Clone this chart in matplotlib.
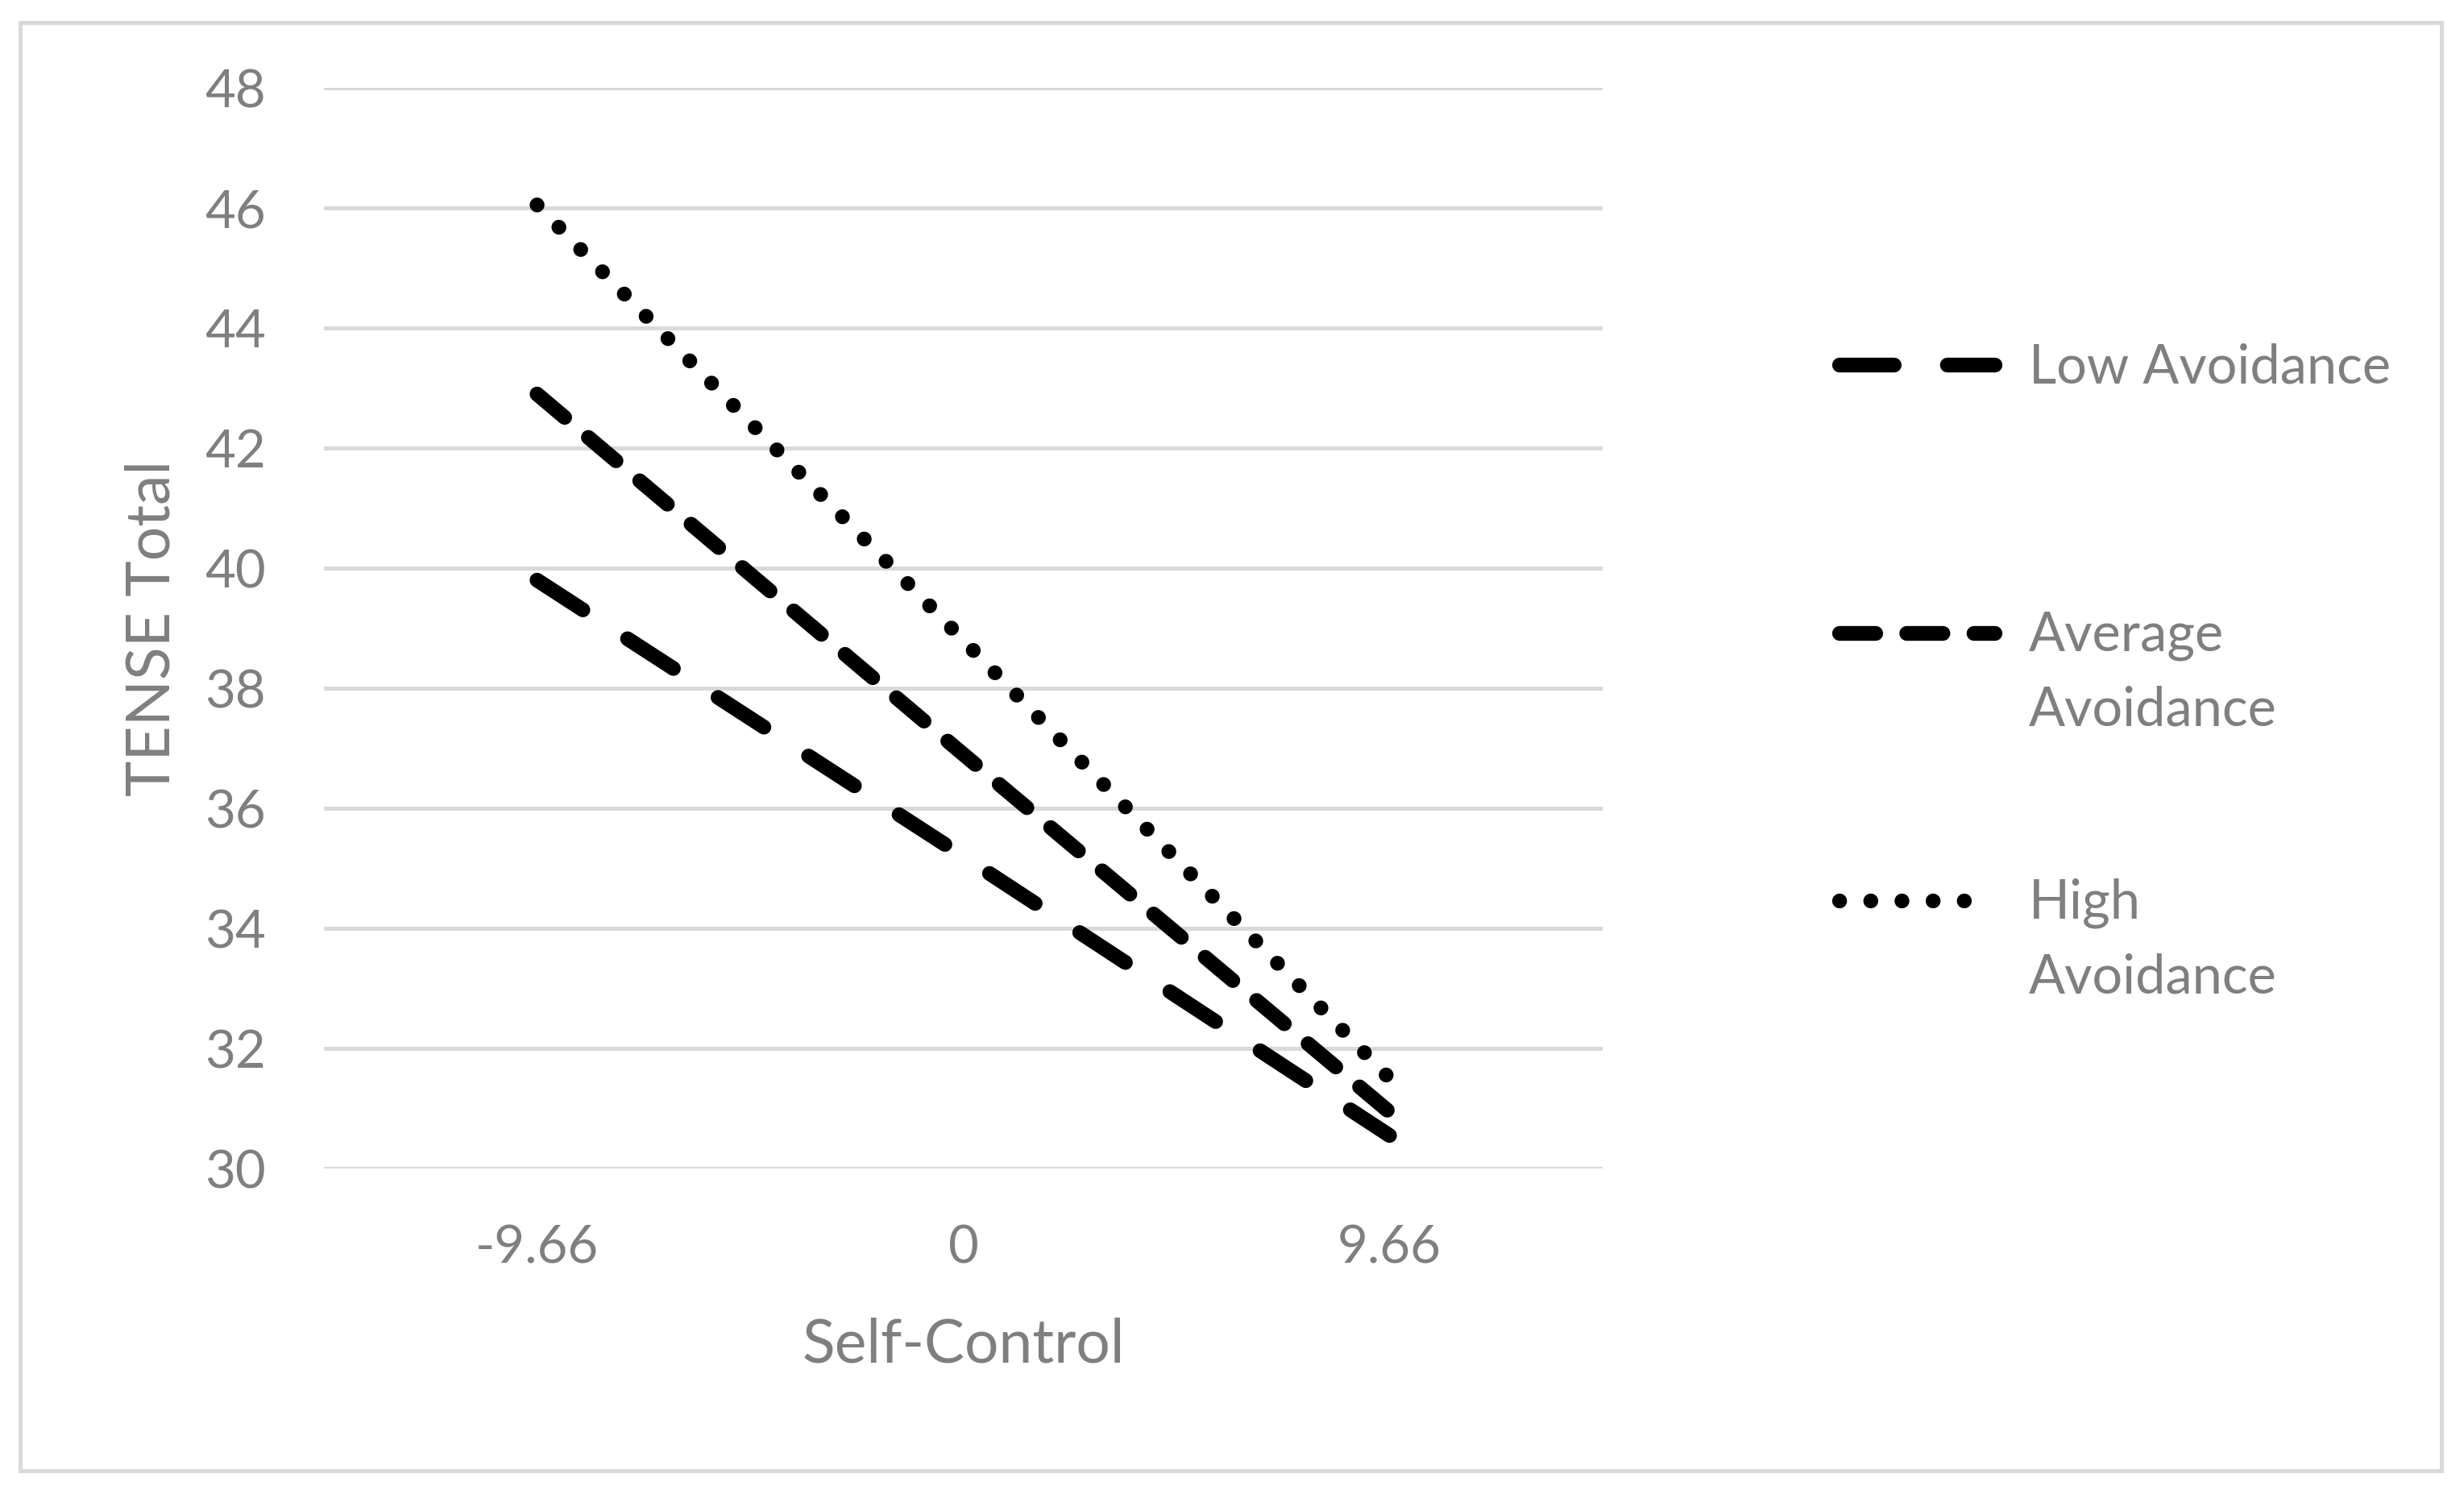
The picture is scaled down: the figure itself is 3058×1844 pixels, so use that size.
import matplotlib
matplotlib.use("Agg")
import matplotlib.pyplot as plt
from matplotlib.lines import Line2D
from matplotlib.patches import Rectangle

plt.rcParams["font.family"] = ["Lato", "DejaVu Sans"]

# ── data ──────────────────────────────────────────────────────────────────────
categories = ["-9.66", "0", "9.66"]
low_avoid  = [39.8, 35.2, 30.55]
avg_avoid  = [42.9, 36.9, 30.94]
high_avoid = [46.05, 38.8, 31.5]
series_labels = ["Low Avoidance", "Average\nAvoidance", "High\nAvoidance"]
y_ticks = [30, 32, 34, 36, 38, 40, 42, 44, 46, 48]

GRAY_TXT  = "#7f7f7f"
GRAY_GRID = "#d9d9d9"
LW = 6.6
styles = [(0, (3.7, 3.6)), (0, (2.45, 2.1)), (0, (0.01, 2.1))]

W, H, DPI = 3058, 1844, 200
fig = plt.figure(figsize=(W / DPI, H / DPI), dpi=DPI)
ax = fig.add_axes([402 / W, 1 - 1450 / H, (1989 - 402) / W, (1450 - 109) / H])

x = range(len(categories))
for vals, ls in zip([low_avoid, avg_avoid, high_avoid], styles):
    ax.plot(x, vals, color="black", linewidth=LW, linestyle=ls,
            dash_capstyle="round", solid_capstyle="round", zorder=3)

ax.set_xlim(-0.5, len(categories) - 0.5)
ax.set_ylim(y_ticks[0], y_ticks[-1])
ax.set_yticks(y_ticks)
ax.set_xticks(list(x))
ax.set_xticklabels(categories)
ax.grid(axis="y", color=GRAY_GRID, linewidth=1.8)
ax.set_axisbelow(True)
for s in ax.spines.values():
    s.set_visible(False)
ax.tick_params(length=0, labelsize=23.5, labelcolor=GRAY_TXT)
ax.tick_params(axis="y", pad=26)
ax.tick_params(axis="x", pad=25)

ax.set_xlabel("Self-Control", fontsize=27, color=GRAY_TXT, labelpad=20)
ax.set_ylabel("TENSE Total", fontsize=27, color=GRAY_TXT, labelpad=11)

# ── legend drawn by hand so the handle sits on the first text line ────────────
leg_y = [453, 786, 1118]
for lab, ls, yy in zip(series_labels, styles, leg_y):
    fig.add_artist(Line2D([2283 / W, 2476 / W], [1 - yy / H] * 2, color="black",
                          linewidth=LW, linestyle=ls, dash_capstyle="round",
                          solid_capstyle="round"))
    for i, part in enumerate(lab.split("\n")):
        fig.text(2518 / W, 1 - (yy + 22 + i * 92) / H, part, fontsize=24,
                 color=GRAY_TXT, va="baseline", ha="left")

# outer chart border
fig.add_artist(Rectangle((25 / W, 1 - 1825 / H), (3030 - 25) / W, (1825 - 28) / H,
                         transform=fig.transFigure, fill=False,
                         edgecolor=GRAY_GRID, linewidth=1.8))

fig.savefig("out.png", dpi=DPI)
